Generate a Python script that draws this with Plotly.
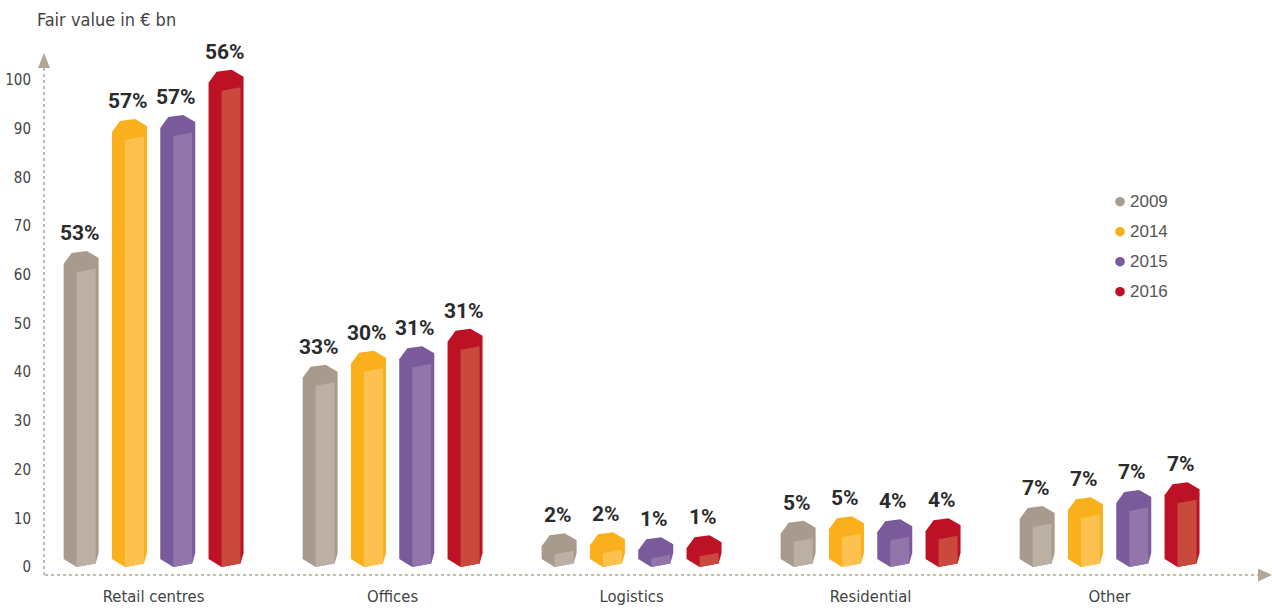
import plotly.graph_objects as go

# ---- data -------------------------------------------------------------
categories = ["Retail centres", "Offices", "Logistics", "Residential", "Other"]
years = ["2009", "2014", "2015", "2016"]

values_2009 = [60.6, 37.2, 2.6, 5.2, 8.2]
values_2014 = [87.7, 40.1, 2.8, 6.1, 10.0]
values_2015 = [88.5, 41.0, 1.8, 5.5, 11.5]
values_2016 = [97.8, 44.6, 2.2, 5.7, 13.1]

share_2009 = ["53%", "33%", "2%", "5%", "7%"]
share_2014 = ["57%", "30%", "2%", "5%", "7%"]
share_2015 = ["57%", "31%", "1%", "4%", "7%"]
share_2016 = ["56%", "31%", "1%", "4%", "7%"]

y_ticks = list(range(0, 101, 10))

series_values = [values_2009, values_2014, values_2015, values_2016]
series_shares = [share_2009, share_2014, share_2015, share_2016]

# side / top colour and lighter front face colour per year
side_colors = ["#a89b8d", "#f9b01c", "#7a5a9a", "#bd1126"]
front_colors = ["#bcafa3", "#fdc14f", "#9175ab", "#c94a3d"]

# ---- page geometry ----------------------------------------------------
W, H = 1272, 615
ML, MR, MT, MB = 45, 10, 60, 40
plot_w = W - ML - MR
plot_h = H - MT - MB

Y_PX = 4.87                       # pixels per € bn
y_min = -8 / Y_PX
y_max = y_min + plot_h / Y_PX
X_PX = 239                        # pixels per category step
x_min = -(153.6 - ML) / X_PX
x_max = x_min + plot_w / X_PX


def dx(px):
    return px / X_PX


def dy(px):
    return px / Y_PX


BAR_W = 35          # prism width in px
BAR_STEP = 48.3     # distance between prisms in a group, px

# hexagonal prism outline, px offsets from the front-left edge
# (x from the left side of the prism, y upward)
HEX = {
    "L": (0, 8), "BL": (8, 19), "BR": (23, 21),
    "R": (35, 14), "FR": (32, 3.5), "FL": (13, 0),
}

condensed = "DejaVu Sans Condensed, Roboto, sans-serif"
bold_font = "Roboto, DejaVu Sans Condensed, sans-serif"

fig = go.Figure()
annotations = []

for k, year in enumerate(years):
    for i, cat in enumerate(categories):
        v = series_values[k][i]
        center = i + dx((k - 1.5) * BAR_STEP)
        left = center - dx(BAR_W / 2)

        def pt(name, base):
            ox, oy = HEX[name]
            return left + dx(ox), base + dy(oy)

        top = [pt(n, v) for n in ("L", "BL", "BR", "R")]
        bottom = [pt(n, 0) for n in ("R", "FR", "FL", "L")]
        body = top + bottom
        fig.add_trace(go.Scatter(
            x=[p[0] for p in body] + [body[0][0]],
            y=[p[1] for p in body] + [body[0][1]],
            mode="lines", fill="toself", fillcolor=side_colors[k],
            line=dict(width=0, color=side_colors[k]),
            hoverinfo="skip", showlegend=False,
        ))

        face = [pt("FL", v), pt("FR", v), pt("FR", 0), pt("FL", 0)]
        fig.add_trace(go.Scatter(
            x=[p[0] for p in face] + [face[0][0]],
            y=[p[1] for p in face] + [face[0][1]],
            mode="lines", fill="toself", fillcolor=front_colors[k],
            line=dict(width=0, color=front_colors[k]),
            hoverinfo="skip", showlegend=False,
        ))

        annotations.append(dict(
            x=center - dx(1.5), y=v, xref="x", yref="y", yshift=39,
            text=series_shares[k][i], showarrow=False,
            xanchor="center", yanchor="middle",
            font=dict(family=bold_font, size=21, color="#2b2b2b", weight="bold"),
        ))

# ---- legend (dots + year labels) -------------------------------------
shapes = []
for k, year in enumerate(years):
    py = 201.7 + 30 * k
    yp = (MT + plot_h - py) / plot_h
    shapes.append(dict(
        type="circle", xref="paper", yref="paper",
        xsizemode="pixel", ysizemode="pixel",
        xanchor=(1120 - ML) / plot_w, yanchor=yp,
        x0=-4.8, x1=4.8, y0=-4.8, y1=4.8,
        fillcolor=side_colors[k], line=dict(width=0),
    ))
    annotations.append(dict(
        x=(1128 - ML) / plot_w, y=yp, xref="paper", yref="paper",
        text=year, showarrow=False, xanchor="left", yanchor="middle",
        font=dict(family="Liberation Sans, Arial, sans-serif", size=17, color="#555555"),
    ))

# ---- dotted axes with arrow heads ------------------------------------
axis_color = "#b3a697"
shapes.append(dict(
    type="line", xref="paper", yref="paper", layer="below",
    x0=-1 / plot_w, x1=-1 / plot_w, y0=0, y1=1 - 8 / plot_h,
    line=dict(color=axis_color, width=1.5, dash="dot"),
))
shapes.append(dict(
    type="line", xref="paper", yref="paper", layer="below",
    x0=0, x1=1 - 4 / plot_w, y0=0, y1=0,
    line=dict(color=axis_color, width=1.5, dash="dot"),
))
shapes.append(dict(
    type="path", xref="paper", yref="paper",
    xsizemode="pixel", ysizemode="pixel",
    xanchor=0, yanchor=1,
    path="M -7,-8 L -1,7 L 5,-8 Z",
    fillcolor=axis_color, line=dict(width=0),
))
shapes.append(dict(
    type="path", xref="paper", yref="paper",
    xsizemode="pixel", ysizemode="pixel",
    xanchor=1, yanchor=0,
    path="M -4,6.5 L 10,0 L -4,-6.5 Z",
    fillcolor=axis_color, line=dict(width=0),
))

fig.update_layout(
    width=W, height=H,
    margin=dict(l=ML, r=MR, t=MT, b=MB, autoexpand=False),
    paper_bgcolor="white", plot_bgcolor="white",
    showlegend=False,
    title=dict(
        text="Fair value in € bn",
        x=37 / W, xanchor="left", xref="container",
        y=1 - 20 / H, yanchor="middle", yref="container",
        font=dict(family=condensed, size=18, color="#444444"),
    ),
    xaxis=dict(
        range=[x_min, x_max], tickmode="array",
        tickvals=list(range(len(categories))), ticktext=categories,
        showgrid=False, zeroline=False, showline=False, ticks="",
        ticklabelstandoff=9, automargin=False,
        tickfont=dict(family=condensed, size=16.5, color="#444444"),
        fixedrange=True,
    ),
    yaxis=dict(
        range=[y_min, y_max], tickmode="array",
        tickvals=y_ticks, ticktext=[str(t) for t in y_ticks],
        showgrid=False, zeroline=False, showline=False, ticks="",
        ticklabelstandoff=13, automargin=False,
        tickfont=dict(family=condensed, size=15, color="#444444"),
        fixedrange=True,
    ),
    shapes=shapes,
    annotations=annotations,
)

fig.write_html("out.html")
